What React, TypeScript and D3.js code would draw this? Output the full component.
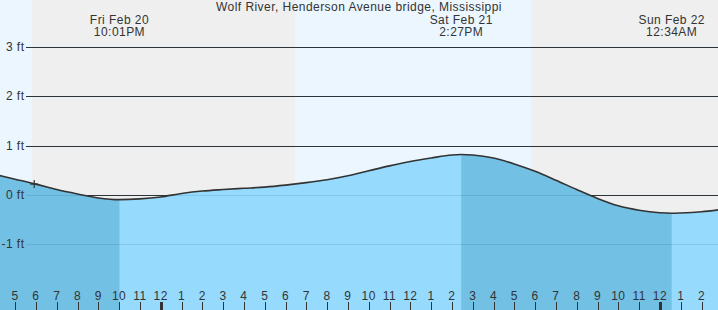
import React from "react";
import * as d3 from "d3";

// ---- data (hours relative to midnight starting Sat Feb 21) ----
const title = "Wolf River, Henderson Avenue bridge, Mississippi";
const tideHours = [-8, -7, -6, -5, -4, -3, -1.983, -1, 0, 1, 2, 3, 4, 5, 6, 7, 8, 9, 10, 11, 12, 13, 14, 14.45, 15, 16, 17, 18, 19, 20, 21, 22, 23, 24, 24.567, 25, 26, 27];
const tideFeet = [0.42, 0.32, 0.22, 0.11, 0.02, -0.06, -0.095, -0.08, -0.04, 0.03, 0.08, 0.11, 0.135, 0.16, 0.2, 0.25, 0.31, 0.39, 0.49, 0.59, 0.68, 0.75, 0.81, 0.82, 0.81, 0.75, 0.63, 0.48, 0.3, 0.11, -0.07, -0.22, -0.31, -0.36, -0.37, -0.365, -0.34, -0.29];

const extremeHours = [-1.983, 14.45, 24.567];
const extremeDays = ["Fri Feb 20", "Sat Feb 21", "Sun Feb 22"];
const extremeTimes = ["10:01PM", "2:27PM", "12:34AM"];

// falling-tide phases (high -> low)
const fallingStart = [-8, 14.45];
const fallingEnd = [-1.983, 24.567];

// daylight periods
const dayStart = [-12, 6.46];
const dayEnd = [-6.19, 17.8];

const feetTicks = [3, 2, 1, 0, -1];
const hourTicks = d3.range(-7, 27);
const nowHour = -6.08;

const W = 718;
const H = 310;

export default function App() {
  const x = d3.scaleLinear().domain([-7.726, 26.793]).range([0, W]);
  const y = d3.scaleLinear().domain([-1, 3]).range([244.3, 47]);

  const pts = tideHours.map((h, i) => [h, tideFeet[i]] as [number, number]);
  const area = d3
    .area<[number, number]>()
    .x((d) => x(d[0]))
    .y0(H)
    .y1((d) => y(d[1]))
    .curve(d3.curveMonotoneX);
  const line = d3
    .line<[number, number]>()
    .x((d) => x(d[0]))
    .y((d) => y(d[1]))
    .curve(d3.curveMonotoneX);

  const font = "'Liberation Sans', Arial, sans-serif";
  const ls = 0.45;
  const hourLabel = (h: number) => {
    const m = ((h % 12) + 12) % 12;
    return String(m === 0 ? 12 : m);
  };

  return (
    <svg
      width={W}
      height={H}
      style={{ position: "absolute", left: 0, top: 0, display: "block" }}
      fontFamily={font}
    >
      <defs>
        <clipPath id="falling">
          {fallingStart.map((s, i) => (
            <rect key={i} x={x(s)} y={0} width={x(fallingEnd[i]) - x(s)} height={H} />
          ))}
        </clipPath>
      </defs>
      {/* night background */}
      <rect x={0} y={0} width={W} height={H} fill="#efefef" />
      {/* day background */}
      {dayStart.map((s, i) => (
        <rect
          key={i}
          x={Math.max(0, x(s))}
          y={0}
          width={x(dayEnd[i]) - Math.max(0, x(s))}
          height={H}
          fill="#ebf6fe"
        />
      ))}
      {/* grid lines */}
      {feetTicks.map((f) => (
        <line key={f} x1={26} x2={W} y1={Math.round(y(f)) + 0.5} y2={Math.round(y(f)) + 0.5} stroke="#333" strokeWidth={1} />
      ))}
      {/* water */}
      <path d={area(pts) || ""} fill="#96dbfd" />
      <path d={area(pts) || ""} fill="#72c0e4" clipPath="url(#falling)" />
      {/* grid lines seen through water */}
      {feetTicks.map((f) => (
        <line key={"w" + f} x1={26} x2={W} y1={Math.round(y(f)) + 0.5} y2={Math.round(y(f)) + 0.5} stroke="rgba(0,60,110,0.13)" strokeWidth={1} />
      ))}
      {/* tide curve */}
      <path d={line(pts) || ""} fill="none" stroke="#333" strokeWidth={1.6} />
      {/* current time marker */}
      <g stroke="#333" strokeWidth={1.2}>
        <line x1={x(nowHour) - 4} x2={x(nowHour) + 4} y1={y(0.22)} y2={y(0.22)} />
        <line x1={x(nowHour)} x2={x(nowHour)} y1={y(0.22) - 4} y2={y(0.22) + 4} />
      </g>
      {/* y labels */}
      {feetTicks.map((f) => (
        <text key={"l" + f} x={24 + ls} y={y(f) + 4} textAnchor="end" fontSize={12} fill="#333" letterSpacing={ls}>
          {f} ft
        </text>
      ))}
      {/* title */}
      <text x={W / 2} y={11} textAnchor="middle" fontSize={12} fill="#333" letterSpacing={ls}>
        {title}
      </text>
      {/* extreme labels */}
      {extremeHours.map((h, i) => (
        <g key={"e" + i}>
          <text x={x(h)} y={24} textAnchor="middle" fontSize={12} fill="#333" letterSpacing={ls}>
            {extremeDays[i]}
          </text>
          <text x={x(h)} y={36} textAnchor="middle" fontSize={12} fill="#333" letterSpacing={ls}>
            {extremeTimes[i]}
          </text>
        </g>
      ))}
      {/* hour ticks */}
      {hourTicks.map((h) => {
        const mid = ((h % 24) + 24) % 24 === 0;
        return (
          <g key={"h" + h}>
            <text x={x(h)} y={300} textAnchor="middle" fontSize={12} fill="#333" letterSpacing={ls}>
              {hourLabel(h)}
            </text>
            <line
              x1={Math.round(x(h)) + 0.5}
              x2={Math.round(x(h)) + 0.5}
              y1={302}
              y2={H}
              stroke="#333"
              strokeWidth={mid ? 3 : 1}
            />
          </g>
        );
      })}
    </svg>
  );
}
